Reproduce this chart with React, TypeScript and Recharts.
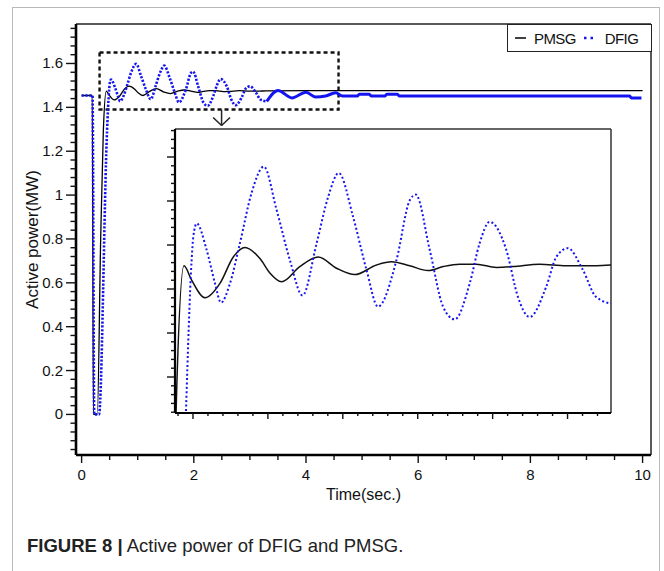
import React from "react";
import { LineChart, Line, XAxis, YAxis, ReferenceLine, ReferenceArea, Legend } from "recharts";

// Active power (MW) against time (s)
const pmsgTime = [0, 0.19, 0.21, 0.28, 0.34, 0.387, 0.44, 0.491, 0.58, 0.68, 0.769, 0.847, 0.947, 1.013, 1.091, 1.213, 1.336, 1.458, 1.58, 1.725, 1.825, 1.947, 2.069, 2.169, 2.28, 2.391, 2.525, 2.636, 2.813, 2.991, 3.169, 3.285, 4.5, 6, 8, 10];
const pmsgPower = [1.454, 1.454, 0, 0, 0.8, 1.29, 1.474, 1.456, 1.434, 1.452, 1.485, 1.497, 1.483, 1.465, 1.454, 1.473, 1.485, 1.471, 1.463, 1.475, 1.479, 1.474, 1.468, 1.473, 1.476, 1.476, 1.472, 1.473, 1.476, 1.474, 1.474, 1.475, 1.476, 1.476, 1.476, 1.476];

const dfigTime = [0, 0.195, 0.225, 0.31, 0.453, 0.491, 0.502, 0.525, 0.591, 0.647, 0.687, 0.747, 0.813, 0.891, 0.973, 1.058, 1.147, 1.231, 1.325, 1.402, 1.473, 1.569, 1.658, 1.735, 1.858, 1.947, 1.987, 2.08, 2.169, 2.247, 2.347, 2.413, 2.48, 2.591, 2.669, 2.747, 2.858, 2.925, 3.002, 3.102, 3.191, 3.3, 3.5, 3.75, 4.0, 4.17, 4.35, 4.53, 4.65, 4.92, 4.95, 5.13, 5.16, 5.41, 5.44, 5.63, 5.66, 9.77, 9.8, 9.98];
const dfigPower = [1.454, 1.454, 0, 0, 1.29, 1.481, 1.51, 1.527, 1.494, 1.452, 1.428, 1.452, 1.502, 1.565, 1.598, 1.544, 1.481, 1.437, 1.502, 1.56, 1.59, 1.535, 1.469, 1.423, 1.481, 1.556, 1.563, 1.494, 1.423, 1.407, 1.452, 1.502, 1.529, 1.494, 1.435, 1.41, 1.448, 1.485, 1.496, 1.469, 1.435, 1.427, 1.477, 1.443, 1.469, 1.447, 1.452, 1.466, 1.452, 1.452, 1.46, 1.46, 1.452, 1.452, 1.46, 1.46, 1.452, 1.452, 1.443, 1.443];

const xLabelTicks = [0, 2, 4, 6, 8, 10];
const yLabelTicks = [0, 0.2, 0.4, 0.6, 0.8, 1, 1.2, 1.4, 1.6];
const insetXMajor = [0.5, 1, 1.5, 2, 2.5, 3];
const insetYMajor = [1.335, 1.39, 1.445, 1.5, 1.555, 1.61];
const legendOrder = ["PMSG", "DFIG"];

// zoom window shown in the dashed box / inset
const zoomBox = { t1: 0.32, t2: 4.58, p1: 1.39, p2: 1.65 };

const X_DOMAIN: [number, number] = [-0.1, 10.15];
const Y_DOMAIN: [number, number] = [-0.185, 1.78];
const INSET_X: [number, number] = [0.38, 3.29];
const INSET_Y: [number, number] = [1.29, 1.645];

const FONT = "'Liberation Sans', Arial, sans-serif";
const BLUE = "#1414f0";

const pmsg = pmsgTime.map((t, i) => ({ t, v: pmsgPower[i] }));
const dfig = dfigTime.map((t, i) => ({ t, v: dfigPower[i] }));
const dfigEarly = dfig.filter((d) => d.t <= 3.3);
const dfigLate = dfig.filter((d) => d.t >= 3.3);

const steps = (start: number, step: number, count: number) =>
  Array.from({ length: count }, (_, i) => Math.round((start + i * step) * 10000) / 10000);

const isIn = (list: number[], v: number) => list.some((m) => Math.abs(m - v) < 1e-6);

const fmt = (v: number) => String(Math.round(v * 10) / 10);

function yTick(majors: number[], long: number, short: number, label: boolean) {
  return (props: any) => {
    const { x, y, payload } = props;
    const major = isIn(majors, payload.value);
    const len = major ? long : short;
    return (
      <g>
        <line x1={x - len} y1={y} x2={x} y2={y} stroke="#111" strokeWidth={1.4} />
        {label && major && (
          <text x={x - 13} y={y + 5} textAnchor="end" fontSize={15} fill="#111" fontFamily={FONT}>
            {fmt(payload.value)}
          </text>
        )}
      </g>
    );
  };
}

function xTick(majors: number[], long: number, short: number, label: boolean) {
  return (props: any) => {
    const { x, y, payload } = props;
    const major = isIn(majors, payload.value);
    const len = major ? long : short;
    return (
      <g>
        <line x1={x} y1={y} x2={x} y2={y + len} stroke="#111" strokeWidth={1.4} />
        {label && major && (
          <text x={x} y={y + 25} textAnchor="middle" fontSize={15} fill="#111" fontFamily={FONT}>
            {fmt(payload.value)}
          </text>
        )}
      </g>
    );
  };
}

function LegendBox({ payload }: any) {
  const items = legendOrder
    .map((name) => (payload || []).find((p: any) => p.value === name))
    .filter(Boolean);
  return (
    <div
      style={{
        boxSizing: "border-box",
        width: 145,
        height: 28,
        border: "1.5px solid #222",
        background: "#fff",
        display: "flex",
        alignItems: "center",
        paddingLeft: 7,
        fontFamily: FONT,
        fontSize: 15,
        letterSpacing: -0.6,
        color: "#111",
        whiteSpace: "nowrap",
      }}
    >
      {items.map((p: any) => (
        <span key={p.value} style={{ display: "flex", alignItems: "center", marginRight: 8 }}>
          <svg width={11} height={6} style={{ marginRight: p.value === "DFIG" ? 10 : 8 }}>
            <line
              x1={0}
              y1={3}
              x2={11}
              y2={3}
              stroke={p.color}
              strokeWidth={p.value === "DFIG" ? 2.5 : 1.5}
              strokeDasharray={p.value === "DFIG" ? "2.5 4" : undefined}
            />
          </svg>
          {p.value}
        </span>
      ))}
    </div>
  );
}

export default function App() {
  return (
    <div style={{ position: "absolute", left: 0, top: 0, width: 664, height: 571, background: "#fff", overflow: "hidden" }}>
      <div
        style={{
          position: "absolute",
          left: 12,
          top: 7,
          width: 648,
          height: 620,
          boxSizing: "border-box",
          border: "1.5px solid #b8b8b8",
        }}
      />
      <div style={{ position: "absolute", left: 0, top: 0 }}>
        <LineChart width={664} height={571} margin={{ top: 24, right: 13, left: 16, bottom: 86 }}>
          <XAxis
            dataKey="t"
            type="number"
            domain={X_DOMAIN}
            ticks={steps(0, 0.5, 21)}
            interval={0}
            tickSize={0}
            tickMargin={0}
            tickLine={false}
            tick={xTick(xLabelTicks, 8, 5, true)}
            axisLine={{ stroke: "#000", strokeWidth: 2.6 }}
            height={30}
            label={{
              content: () => (
                <text x={363.5} y={500} textAnchor="middle" fontSize={16} fill="#111" fontFamily={FONT}>
                  Time(sec.)
                </text>
              ),
            }}
          />
          <YAxis
            type="number"
            domain={Y_DOMAIN}
            ticks={steps(-0.16, 0.04, 49)}
            interval={0}
            tickSize={0}
            tickMargin={0}
            tickLine={false}
            tick={yTick(yLabelTicks, 10, 5.5, true)}
            axisLine={{ stroke: "#000", strokeWidth: 2.6 }}
            width={60}
            label={{
              content: () => (
                <text
                  x={38}
                  y={239.5}
                  transform="rotate(-90, 38, 239.5)"
                  textAnchor="middle"
                  fontSize={17}
                  fill="#111"
                  fontFamily={FONT}
                >
                  Active power(MW)
                </text>
              ),
            }}
          />
          <ReferenceLine y={Y_DOMAIN[1]} stroke="#222" strokeWidth={1.5} />
          <ReferenceLine x={X_DOMAIN[1]} stroke="#222" strokeWidth={1.5} />
          <ReferenceArea
            x1={zoomBox.t1}
            x2={zoomBox.t2}
            y1={zoomBox.p1}
            y2={zoomBox.p2}
            fill="none"
            fillOpacity={0}
            stroke="#111"
            strokeWidth={2.4}
            strokeDasharray="4 3"
          />
          <ReferenceLine segment={[{ x: 2.495, y: zoomBox.p1 }, { x: 2.495, y: 1.317 }]} stroke="#222" strokeWidth={1.5} />
          <ReferenceLine segment={[{ x: 2.344, y: 1.354 }, { x: 2.495, y: 1.317 }]} stroke="#222" strokeWidth={1.5} />
          <ReferenceLine segment={[{ x: 2.646, y: 1.354 }, { x: 2.495, y: 1.317 }]} stroke="#222" strokeWidth={1.5} />
          <Legend
            layout="horizontal"
            verticalAlign="middle"
            align="center"
            content={LegendBox}
            wrapperStyle={{ left: 507, top: 24, width: 145, height: 28 }}
          />
          <Line
            data={pmsg}
            dataKey="v"
            name="PMSG"
            type="monotone"
            stroke="#000"
            strokeWidth={1.3}
            dot={false}
            isAnimationActive={false}
          />
          <Line
            data={dfigEarly}
            dataKey="v"
            name="DFIG"
            type="monotone"
            stroke={BLUE}
            strokeWidth={2.6}
            strokeDasharray="2.2 1.6"
            dot={false}
            isAnimationActive={false}
          />
          <Line
            data={dfigLate}
            dataKey="v"
            name="DFIG late"
            legendType="none"
            type="monotone"
            stroke={BLUE}
            strokeWidth={3}
            dot={false}
            isAnimationActive={false}
          />
        </LineChart>
      </div>

      <div style={{ position: "absolute", left: 155, top: 119 }}>
        <LineChart width={466} height={314} margin={{ top: 10, right: 10, left: 0, bottom: 0 }}>
          <XAxis
            dataKey="t"
            type="number"
            domain={INSET_X}
            allowDataOverflow
            ticks={steps(0.4, 0.1, 29)}
            interval={0}
            tickSize={0}
            tickMargin={0}
            tickLine={false}
            tick={xTick(insetXMajor, 6, 3, false)}
            axisLine={{ stroke: "#000", strokeWidth: 2.2 }}
            height={20}
          />
          <YAxis
            type="number"
            domain={INSET_Y}
            allowDataOverflow
            ticks={steps(1.291, 0.011, 33)}
            interval={0}
            tickSize={0}
            tickMargin={0}
            tickLine={false}
            tick={yTick(insetYMajor, 8, 4, false)}
            axisLine={{ stroke: "#000", strokeWidth: 2.2 }}
            width={20}
          />
          <ReferenceLine y={INSET_Y[1]} stroke="#333" strokeWidth={1.5} />
          <ReferenceLine x={INSET_X[1]} stroke="#333" strokeWidth={1.5} />
          <Line
            data={pmsg}
            dataKey="v"
            type="monotone"
            stroke="#111"
            strokeWidth={1.5}
            dot={false}
            isAnimationActive={false}
          />
          <Line
            data={dfig}
            dataKey="v"
            type="monotone"
            stroke={BLUE}
            strokeWidth={2}
            strokeDasharray="2 2.4"
            dot={false}
            isAnimationActive={false}
          />
        </LineChart>
      </div>

      <div
        style={{
          position: "absolute",
          left: 27,
          top: 535,
          fontFamily: FONT,
          fontSize: 18.5,
          color: "#222",
          whiteSpace: "nowrap",
        }}
      >
        <b>FIGURE 8 |</b> Active power of DFIG and PMSG.
      </div>
    </div>
  );
}
